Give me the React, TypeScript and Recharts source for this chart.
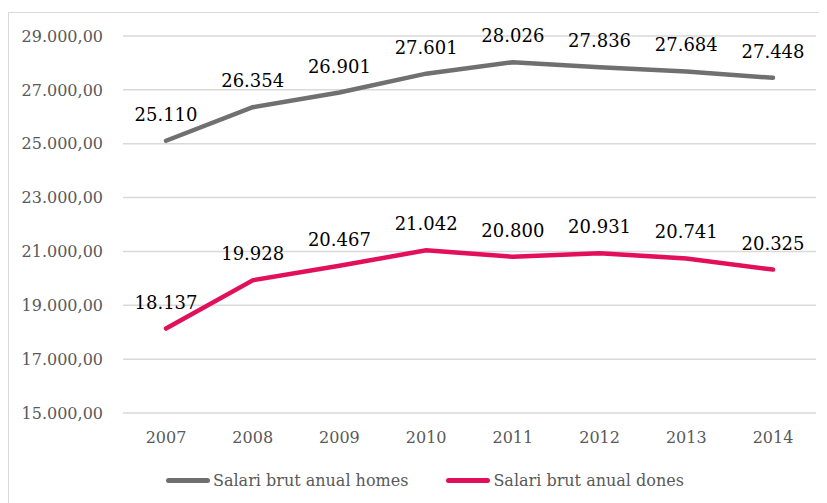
import React from 'react';
import {
  LineChart,
  Line,
  XAxis,
  YAxis,
  CartesianGrid,
  Legend,
  LabelList
} from 'recharts';

const years = ['2007', '2008', '2009', '2010', '2011', '2012', '2013', '2014'];
const salariHomes = [25110, 26354, 26901, 27601, 28026, 27836, 27684, 27448];
const salariDones = [18137, 19928, 20467, 21042, 20800, 20931, 20741, 20325];
const yTicks = [15000, 17000, 19000, 21000, 23000, 25000, 27000, 29000];

const seriesNames = ['Salari brut anual homes', 'Salari brut anual dones'];
const seriesColors = ['#707070', '#E2105A'];

const FONT = '"DejaVu Serif", serif';

// thousands with a dot, like the Catalan source
const thousands = (v: number) =>
  String(Math.round(v)).replace(/\B(?=(\d{3})+(?!\d))/g, '.');

const data = years.map((year, i) => ({
  year,
  homes: salariHomes[i],
  dones: salariDones[i]
}));

function ChartLegend() {
  return (
    <div
      style={{
        display: 'flex',
        alignItems: 'center',
        paddingLeft: 157,
        fontFamily: FONT,
        fontSize: 16,
        color: '#595959'
      }}
    >
      {seriesNames.map((name, i) => (
        <div
          key={name}
          style={{ display: 'flex', alignItems: 'center', marginRight: 38 }}
        >
          <span
            style={{
              display: 'inline-block',
              width: 44,
              height: 5,
              borderRadius: 3,
              background: seriesColors[i],
              marginRight: 3
            }}
          />
          <span>{name}</span>
        </div>
      ))}
    </div>
  );
}

export default function App() {
  return (
    <div
      style={{
        marginTop: 4,
        width: 816,
        height: 490,
        border: '1px solid #d9d9d9',
        background: '#fff'
      }}
    >
      <LineChart
        width={816}
        height={490}
        data={data}
        margin={{ top: 23, right: 9, left: 0, bottom: 8 }}
      >
        <CartesianGrid vertical={false} stroke="#d9d9d9" strokeWidth={1.5} />
        <XAxis
          dataKey="year"
          axisLine={false}
          tickLine={false}
          tickSize={0}
          tickMargin={19}
          height={58}
          padding={{ left: 43, right: 43 }}
          tick={{ fill: '#595959', fontSize: 16, fontFamily: FONT }}
        />
        <YAxis
          domain={[15000, 29000]}
          ticks={yTicks}
          interval={0}
          width={114}
          axisLine={false}
          tickLine={false}
          tickSize={0}
          tickMargin={20}
          tickFormatter={(v: number) => thousands(v) + ',00'}
          tick={{ fill: '#595959', fontSize: 16, fontFamily: FONT }}
        />
        <Legend verticalAlign="bottom" height={24} content={<ChartLegend />} />
        <Line
          type="linear"
          dataKey="homes"
          name={seriesNames[0]}
          stroke={seriesColors[0]}
          strokeWidth={4.5}
          strokeLinecap="round"
          dot={false}
          isAnimationActive={false}
        >
          <LabelList
            dataKey="homes"
            position="top"
            offset={20}
            formatter={(v: number) => thousands(v)}
            style={{ fill: '#000', fontSize: 18, fontFamily: FONT }}
          />
        </Line>
        <Line
          type="linear"
          dataKey="dones"
          name={seriesNames[1]}
          stroke={seriesColors[1]}
          strokeWidth={4.5}
          strokeLinecap="round"
          dot={false}
          isAnimationActive={false}
        >
          <LabelList
            dataKey="dones"
            position="top"
            offset={20}
            formatter={(v: number) => thousands(v)}
            style={{ fill: '#000', fontSize: 18, fontFamily: FONT }}
          />
        </Line>
      </LineChart>
    </div>
  );
}
